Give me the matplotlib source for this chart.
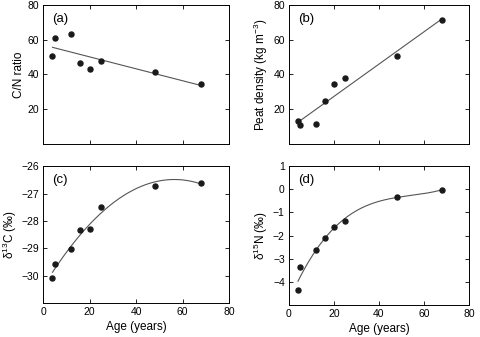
import matplotlib
matplotlib.use("Agg")
import matplotlib.pyplot as plt
import numpy as np

# ages of the sampled peat cores (years)
age = [4, 5, 12, 16, 20, 25, 48, 68]

cn_ratio = [50.6, 61.2, 63.1, 46.5, 42.9, 47.7, 41.5, 34.6]
peat_density = [13.1, 11.0, 11.2, 25.0, 34.4, 37.7, 50.6, 71.2]
d13c = [-30.07, -29.57, -29.02, -28.34, -28.31, -27.49, -26.72, -26.60]
d15n = [-4.37, -3.35, -2.64, -2.12, -1.62, -1.35, -0.32, -0.03]

plt.rcParams["font.family"] = ["Liberation Sans", "DejaVu Sans"]
plt.rcParams["font.size"] = 8
plt.rcParams["mathtext.fontset"] = "custom"
plt.rcParams["mathtext.rm"] = "Liberation Sans"
plt.rcParams["mathtext.it"] = "Liberation Sans:italic"
plt.rcParams["mathtext.default"] = "regular"

fig = plt.figure(figsize=(4.8, 3.37), dpi=100)

panels = [
    # (rect, y, fit degree, ylim, yticks, ylabel, tag, show x labels)
    ([0.090, 0.573, 0.387, 0.412], cn_ratio, 1, (0, 80), [20, 40, 60, 80],
     "C/N ratio", "(a)", False),
    ([0.602, 0.573, 0.375, 0.412], peat_density, 1, (0, 80), [20, 40, 60, 80],
     "Peat density (kg m$^{-3}$)", "(b)", False),
    ([0.090, 0.101, 0.387, 0.406], d13c, 2, (-31, -26), [-30, -29, -28, -27, -26],
     "δ$^{13}$C (‰)", "(c)", True),
    ([0.602, 0.095, 0.375, 0.412], d15n, 3, (-5, 1), [-4, -3, -2, -1, 0, 1],
     "δ$^{15}$N (‰)", "(d)", True),
]

xs = np.linspace(min(age), max(age), 200)
for rect, y, deg, ylim, yticks, ylabel, tag, xlab in panels:
    ax = fig.add_axes(rect)
    coef = np.polyfit(age, y, deg)
    ax.plot(xs, np.polyval(coef, xs), color="#555555", linewidth=0.8)
    ax.plot(age, y, "o", color="#1a1a1a", markersize=3.6)
    ax.set_xlim(0, 80)
    ax.set_ylim(*ylim)
    ax.set_xticks([0, 20, 40, 60, 80])
    ax.set_yticks(yticks)
    ax.tick_params(direction="in", top=True, right=True, length=3,
                   width=0.6, labelsize=7.5, pad=3)
    if not xlab:
        ax.tick_params(labelbottom=False)
    else:
        ax.set_xlabel("Age (years)", fontsize=8.5, labelpad=3)
    ax.set_ylabel(ylabel, fontsize=8.5, labelpad=2)
    for s in ax.spines.values():
        s.set_linewidth(0.7)
    ax.text(0.05, 0.94, tag, transform=ax.transAxes, fontsize=9.5,
            va="top", ha="left")

fig.savefig("out.png", dpi=100)
